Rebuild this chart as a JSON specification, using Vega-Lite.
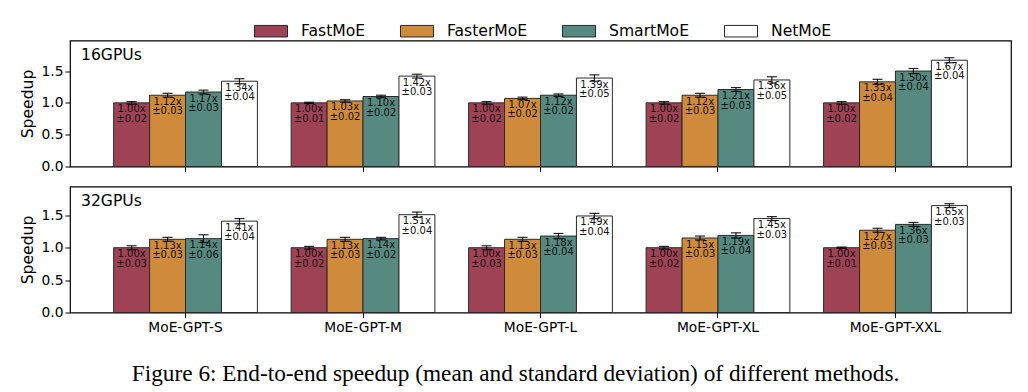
{
  "$schema": "https://vega.github.io/schema/vega-lite/v6.json",
  "autosize": {"type": "pad"},
  "padding": {"left": 19, "top": 13.5, "right": 18, "bottom": 5},
  "background": "white",
  "bounds": "flush",
  "spacing": 20,
  "title": {"text": "Figure 6: End-to-end speedup (mean and standard deviation) of different methods.", "orient": "bottom", "anchor": "middle", "frame": "bounds", "font": "Liberation Serif", "fontSize": 23.3, "fontWeight": "normal", "color": "black", "offset": 46, "baseline": "alphabetic"},
  "datasets": {
    "speed": [
      {"gpus": "16GPUs", "model": "MoE-GPT-S", "method": "FastMoE", "speedup": 1.00, "std": 0.02},
      {"gpus": "16GPUs", "model": "MoE-GPT-S", "method": "FasterMoE", "speedup": 1.12, "std": 0.03},
      {"gpus": "16GPUs", "model": "MoE-GPT-S", "method": "SmartMoE", "speedup": 1.17, "std": 0.03},
      {"gpus": "16GPUs", "model": "MoE-GPT-S", "method": "NetMoE", "speedup": 1.34, "std": 0.04},
      {"gpus": "16GPUs", "model": "MoE-GPT-M", "method": "FastMoE", "speedup": 1.00, "std": 0.01},
      {"gpus": "16GPUs", "model": "MoE-GPT-M", "method": "FasterMoE", "speedup": 1.03, "std": 0.02},
      {"gpus": "16GPUs", "model": "MoE-GPT-M", "method": "SmartMoE", "speedup": 1.10, "std": 0.02},
      {"gpus": "16GPUs", "model": "MoE-GPT-M", "method": "NetMoE", "speedup": 1.42, "std": 0.03},
      {"gpus": "16GPUs", "model": "MoE-GPT-L", "method": "FastMoE", "speedup": 1.00, "std": 0.02},
      {"gpus": "16GPUs", "model": "MoE-GPT-L", "method": "FasterMoE", "speedup": 1.07, "std": 0.02},
      {"gpus": "16GPUs", "model": "MoE-GPT-L", "method": "SmartMoE", "speedup": 1.12, "std": 0.02},
      {"gpus": "16GPUs", "model": "MoE-GPT-L", "method": "NetMoE", "speedup": 1.39, "std": 0.05},
      {"gpus": "16GPUs", "model": "MoE-GPT-XL", "method": "FastMoE", "speedup": 1.00, "std": 0.02},
      {"gpus": "16GPUs", "model": "MoE-GPT-XL", "method": "FasterMoE", "speedup": 1.12, "std": 0.03},
      {"gpus": "16GPUs", "model": "MoE-GPT-XL", "method": "SmartMoE", "speedup": 1.21, "std": 0.03},
      {"gpus": "16GPUs", "model": "MoE-GPT-XL", "method": "NetMoE", "speedup": 1.36, "std": 0.05},
      {"gpus": "16GPUs", "model": "MoE-GPT-XXL", "method": "FastMoE", "speedup": 1.00, "std": 0.02},
      {"gpus": "16GPUs", "model": "MoE-GPT-XXL", "method": "FasterMoE", "speedup": 1.33, "std": 0.04},
      {"gpus": "16GPUs", "model": "MoE-GPT-XXL", "method": "SmartMoE", "speedup": 1.50, "std": 0.04},
      {"gpus": "16GPUs", "model": "MoE-GPT-XXL", "method": "NetMoE", "speedup": 1.67, "std": 0.04},
      {"gpus": "32GPUs", "model": "MoE-GPT-S", "method": "FastMoE", "speedup": 1.00, "std": 0.03},
      {"gpus": "32GPUs", "model": "MoE-GPT-S", "method": "FasterMoE", "speedup": 1.13, "std": 0.03},
      {"gpus": "32GPUs", "model": "MoE-GPT-S", "method": "SmartMoE", "speedup": 1.14, "std": 0.06},
      {"gpus": "32GPUs", "model": "MoE-GPT-S", "method": "NetMoE", "speedup": 1.41, "std": 0.04},
      {"gpus": "32GPUs", "model": "MoE-GPT-M", "method": "FastMoE", "speedup": 1.00, "std": 0.02},
      {"gpus": "32GPUs", "model": "MoE-GPT-M", "method": "FasterMoE", "speedup": 1.13, "std": 0.03},
      {"gpus": "32GPUs", "model": "MoE-GPT-M", "method": "SmartMoE", "speedup": 1.14, "std": 0.02},
      {"gpus": "32GPUs", "model": "MoE-GPT-M", "method": "NetMoE", "speedup": 1.51, "std": 0.04},
      {"gpus": "32GPUs", "model": "MoE-GPT-L", "method": "FastMoE", "speedup": 1.00, "std": 0.03},
      {"gpus": "32GPUs", "model": "MoE-GPT-L", "method": "FasterMoE", "speedup": 1.13, "std": 0.03},
      {"gpus": "32GPUs", "model": "MoE-GPT-L", "method": "SmartMoE", "speedup": 1.18, "std": 0.04},
      {"gpus": "32GPUs", "model": "MoE-GPT-L", "method": "NetMoE", "speedup": 1.49, "std": 0.04},
      {"gpus": "32GPUs", "model": "MoE-GPT-XL", "method": "FastMoE", "speedup": 1.00, "std": 0.02},
      {"gpus": "32GPUs", "model": "MoE-GPT-XL", "method": "FasterMoE", "speedup": 1.15, "std": 0.03},
      {"gpus": "32GPUs", "model": "MoE-GPT-XL", "method": "SmartMoE", "speedup": 1.19, "std": 0.04},
      {"gpus": "32GPUs", "model": "MoE-GPT-XL", "method": "NetMoE", "speedup": 1.45, "std": 0.03},
      {"gpus": "32GPUs", "model": "MoE-GPT-XXL", "method": "FastMoE", "speedup": 1.00, "std": 0.01},
      {"gpus": "32GPUs", "model": "MoE-GPT-XXL", "method": "FasterMoE", "speedup": 1.27, "std": 0.03},
      {"gpus": "32GPUs", "model": "MoE-GPT-XXL", "method": "SmartMoE", "speedup": 1.36, "std": 0.03},
      {"gpus": "32GPUs", "model": "MoE-GPT-XXL", "method": "NetMoE", "speedup": 1.65, "std": 0.03}
    ]
  },
  "resolve": {"scale": {"y": "independent"}},
  "vconcat": [
    {
      "width": 941,
      "height": 126,
      "view": {"stroke": "black", "strokeWidth": 1.2, "fill": "white"},
      "data": {"name": "speed"},
      "transform": [
        {"filter": "datum.gpus === '16GPUs'"},
        {"calculate": "datum.speedup - datum.std", "as": "lo"},
        {"calculate": "datum.speedup + datum.std", "as": "hi"},
        {"calculate": "format(datum.speedup, '.2f') + 'x\\n±' + format(datum.std, '.2f')", "as": "label"}
      ],
      "title": {"text": "16GPUs", "orient": "top", "anchor": "start", "frame": "group", "offset": -35, "baseline": "alphabetic", "dx": 11, "fontSize": 15.6, "fontWeight": "normal", "font": "DejaVu Sans", "color": "black"},
      "encoding": {
        "x": {"field": "model", "type": "nominal", "sort": ["MoE-GPT-S", "MoE-GPT-M", "MoE-GPT-L", "MoE-GPT-XL", "MoE-GPT-XXL"], "scale": {"paddingInner": 0.19, "paddingOuter": 0.246}, "axis": {"title": null, "labels": false, "ticks": true, "tickSize": 5, "tickColor": "black", "domain": false}},
        "xOffset": {"field": "method", "type": "nominal", "sort": ["FastMoE", "FasterMoE", "SmartMoE", "NetMoE"], "scale": {"paddingInner": 0, "paddingOuter": 0}}
      },
      "layer": [
        {
          "mark": {"type": "bar", "stroke": "#2a2a2a", "strokeWidth": 1},
          "encoding": {
            "y": {"field": "speedup", "type": "quantitative", "scale": {"domain": [0, 1.98], "nice": false}, "axis": {"title": "Speedup", "values": [0, 0.5, 1, 1.5], "format": ".1f", "grid": false, "domain": false, "tickSize": 5, "tickColor": "black", "titlePadding": 6}},
            "color": {"field": "method", "type": "nominal", "scale": {"domain": ["FastMoE", "FasterMoE", "SmartMoE", "NetMoE"], "range": ["#A04255", "#D08A3C", "#568A80", "#FFFFFF"]}, "legend": {"title": null, "orient": "none", "direction": "horizontal", "columns": 4, "legendX": 184, "legendY": -26.5, "symbolType": "M-1,-0.35H1V0.35H-1Z", "symbolSize": 1089, "symbolStrokeColor": "#2a2a2a", "symbolStrokeWidth": 1, "symbolOpacity": 1, "labelOffset": 13, "columnPadding": 32, "labelFontSize": 15.6, "labelFont": "DejaVu Sans", "labelColor": "black", "padding": 0}}
          }
        },
        {
          "mark": {"type": "rule", "color": "black", "strokeWidth": 1.2, "opacity": 0.85},
          "encoding": {"y": {"field": "lo", "type": "quantitative"}, "y2": {"field": "hi"}}
        },
        {
          "mark": {"type": "tick", "color": "black", "size": 10, "thickness": 1.2, "opacity": 0.85, "orient": "horizontal"},
          "encoding": {"y": {"field": "lo", "type": "quantitative"}}
        },
        {
          "mark": {"type": "tick", "color": "black", "size": 10, "thickness": 1.2, "opacity": 0.85, "orient": "horizontal"},
          "encoding": {"y": {"field": "hi", "type": "quantitative"}}
        },
        {
          "mark": {"type": "text", "baseline": "top", "align": "center", "dy": 1.5, "fontSize": 10, "lineHeight": 9.5, "lineBreak": "\n", "color": "#111", "font": "DejaVu Sans"},
          "encoding": {"y": {"field": "speedup", "type": "quantitative"}, "text": {"field": "label"}}
        }
      ]
    },
    {
      "width": 941,
      "height": 126,
      "view": {"stroke": "black", "strokeWidth": 1.2, "fill": "white"},
      "data": {"name": "speed"},
      "transform": [
        {"filter": "datum.gpus === '32GPUs'"},
        {"calculate": "datum.speedup - datum.std", "as": "lo"},
        {"calculate": "datum.speedup + datum.std", "as": "hi"},
        {"calculate": "format(datum.speedup, '.2f') + 'x\\n±' + format(datum.std, '.2f')", "as": "label"}
      ],
      "title": {"text": "32GPUs", "orient": "top", "anchor": "start", "frame": "group", "offset": -35, "baseline": "alphabetic", "dx": 11, "fontSize": 15.6, "fontWeight": "normal", "font": "DejaVu Sans", "color": "black"},
      "encoding": {
        "x": {"field": "model", "type": "nominal", "sort": ["MoE-GPT-S", "MoE-GPT-M", "MoE-GPT-L", "MoE-GPT-XL", "MoE-GPT-XXL"], "scale": {"paddingInner": 0.19, "paddingOuter": 0.246}, "axis": {"title": null, "labels": true, "labelAngle": 0, "ticks": true, "tickSize": 5, "tickColor": "black", "domain": false, "labelFontSize": 13.8, "labelPadding": 3}},
        "xOffset": {"field": "method", "type": "nominal", "sort": ["FastMoE", "FasterMoE", "SmartMoE", "NetMoE"], "scale": {"paddingInner": 0, "paddingOuter": 0}}
      },
      "layer": [
        {
          "mark": {"type": "bar", "stroke": "#2a2a2a", "strokeWidth": 1},
          "encoding": {
            "y": {"field": "speedup", "type": "quantitative", "scale": {"domain": [0, 1.945], "nice": false}, "axis": {"title": "Speedup", "values": [0, 0.5, 1, 1.5], "format": ".1f", "grid": false, "domain": false, "tickSize": 5, "tickColor": "black", "titlePadding": 6}},
            "color": {"field": "method", "type": "nominal", "scale": {"domain": ["FastMoE", "FasterMoE", "SmartMoE", "NetMoE"], "range": ["#A04255", "#D08A3C", "#568A80", "#FFFFFF"]}, "legend": {"title": null, "orient": "none", "direction": "horizontal", "columns": 4, "legendX": 184, "legendY": -26.5, "symbolType": "M-1,-0.35H1V0.35H-1Z", "symbolSize": 1089, "symbolStrokeColor": "#2a2a2a", "symbolStrokeWidth": 1, "symbolOpacity": 1, "labelOffset": 13, "columnPadding": 32, "labelFontSize": 15.6, "labelFont": "DejaVu Sans", "labelColor": "black", "padding": 0}}
          }
        },
        {
          "mark": {"type": "rule", "color": "black", "strokeWidth": 1.2, "opacity": 0.85},
          "encoding": {"y": {"field": "lo", "type": "quantitative"}, "y2": {"field": "hi"}}
        },
        {
          "mark": {"type": "tick", "color": "black", "size": 10, "thickness": 1.2, "opacity": 0.85, "orient": "horizontal"},
          "encoding": {"y": {"field": "lo", "type": "quantitative"}}
        },
        {
          "mark": {"type": "tick", "color": "black", "size": 10, "thickness": 1.2, "opacity": 0.85, "orient": "horizontal"},
          "encoding": {"y": {"field": "hi", "type": "quantitative"}}
        },
        {
          "mark": {"type": "text", "baseline": "top", "align": "center", "dy": 1.5, "fontSize": 10, "lineHeight": 9.5, "lineBreak": "\n", "color": "#111", "font": "DejaVu Sans"},
          "encoding": {"y": {"field": "speedup", "type": "quantitative"}, "text": {"field": "label"}}
        }
      ]
    }
  ],
  "config": {
    "font": "DejaVu Sans",
    "view": {"stroke": "black", "strokeWidth": 1.2},
    "axis": {"labelFont": "DejaVu Sans", "labelFontSize": 13.8, "labelColor": "black", "titleFont": "DejaVu Sans", "titleFontSize": 15.6, "titleFontWeight": "normal", "titleColor": "black"}
  }
}
